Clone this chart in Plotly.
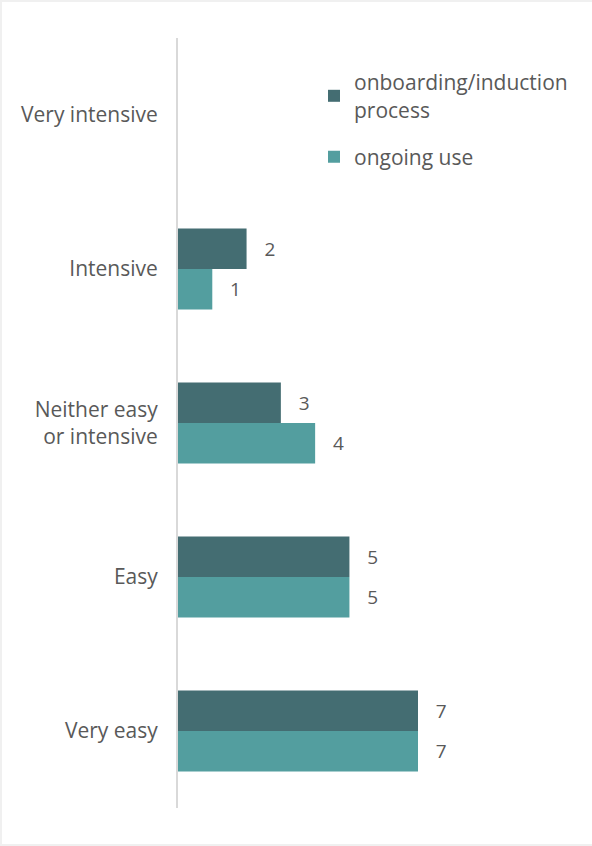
import plotly.graph_objects as go

categories = ["Very intensive", "Intensive", "Neither easy<br>or intensive", "Easy", "Very easy"]
onboarding = [None, 2, 3, 5, 7]
ongoing = [None, 1, 4, 5, 7]
series_names = ["onboarding/induction<br>process", "ongoing use"]
colors = ["#446d72", "#539e9f"]

W, H = 592, 846
L, R, T, B = 178, 14, 38, 38
pw, ph = W - L - R, H - T - B

def px_x(p):
    return (p - L) / pw

def px_y(p):
    return (H - B - p) / ph

def labels(vals):
    return ["" if v is None else f"   {v}" for v in vals]

family = "'Open Sans', 'Noto Sans', sans-serif"
font = dict(family=family, size=21, color="#595959")

fig = go.Figure()
for i, (name, vals, col) in enumerate(zip(series_names, [onboarding, ongoing], colors)):
    fig.add_trace(go.Bar(
        y=categories, x=vals, name=name, orientation="h",
        legendgroup=f"g{i}",
        marker=dict(color=col, line=dict(width=0)),
        text=labels(vals), textposition="outside", cliponaxis=False,
        textfont=dict(family=family, size=19, color="#595959"),
    ))

fig.update_layout(
    width=W, height=H,
    margin=dict(l=L, r=R, t=T, b=B, pad=0),
    paper_bgcolor="#f0f0f0", plot_bgcolor="white",
    barmode="group", bargap=0.474, bargroupgap=0,
    font=font,
    showlegend=True,
    legend=dict(x=px_x(314), y=px_y(62), xanchor="left", yanchor="top",
                traceorder="grouped", font=dict(family=family, size=21, color="#595959"),
                itemwidth=30, tracegroupgap=17, bgcolor="rgba(0,0,0,0)"),
    xaxis=dict(range=[0, pw / (240 / 7)], showgrid=False, zeroline=False,
               showticklabels=False, showline=False, fixedrange=True),
    yaxis=dict(autorange="reversed", showgrid=False, zeroline=False,
               showline=True, linecolor="#d9d9d9", linewidth=2,
               ticks="", ticklabelstandoff=14, tickfont=font),
    shapes=[dict(type="rect", xref="paper", yref="paper", layer="below",
                 x0=px_x(2), x1=px_x(600), y0=px_y(844), y1=px_y(2),
                 fillcolor="white", line=dict(width=0))],
)

fig.write_html("out.html")
